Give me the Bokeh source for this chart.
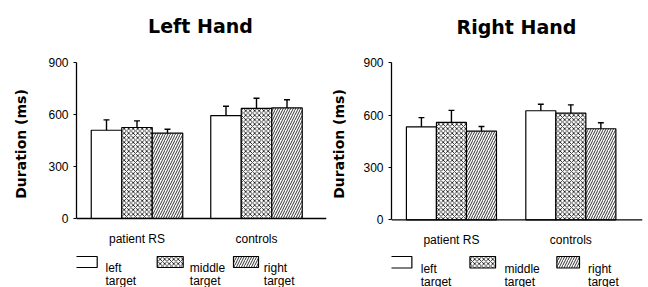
from bokeh.plotting import figure
from bokeh.layouts import row
from bokeh.models import Range1d, FixedTicker, Span, ColumnDataSource
from bokeh.core.properties import value
from bokeh.embed import file_html
from bokeh.resources import INLINE

# ---------------- data ----------------
groups = ["patient RS", "controls"]
targets = ["left", "middle", "right"]
target_word = "target"
y_ticks = [0, 300, 600, 900]

left_hand_left = [509, 594]
left_hand_middle = [525, 635]
left_hand_right = [492, 638]
left_hand_left_err = [60, 54]
left_hand_middle_err = [38, 59]
left_hand_right_err = [23, 47]

right_hand_left = [533, 625]
right_hand_middle = [558, 611]
right_hand_right = [508, 522]
right_hand_left_err = [53, 37]
right_hand_middle_err = [69, 48]
right_hand_right_err = [27, 34]

titles = ["Left Hand", "Right Hand"]
y_label = "Duration (ms)"

# ---------------- styles ----------------
HATCH = [None, "diagonal_cross", "right_diagonal_line"]
HATCH_SCALE = [1, 4.5, 5]
TXT = "Liberation Sans"
BOLD = "DejaVu Sans"
TOP_PAGE, BOT_PAGE = 0, 287


def make_panel(title, means, errs, geo):
    (fig_left, fig_w, frame_left, frame_right, c0, sx, y0, sy,
     label_standoff, title_cx, title_base, cat_base,
     boxes, box_top, box_bot, text_x, line1, line2) = geo

    def X(px):
        return (px - c0) / sx

    def Y(py):
        return (y0 - py) / sy

    p = figure(width=fig_w, height=BOT_PAGE - TOP_PAGE, output_backend="svg",
               toolbar_location=None,
               x_range=Range1d(X(frame_left), X(frame_right)),
               y_range=Range1d(Y(BOT_PAGE), Y(TOP_PAGE)),
               x_axis_location=None, y_axis_location="left",
               min_border_left=frame_left - fig_left,
               min_border_right=fig_left + fig_w - frame_right,
               min_border_top=0, min_border_bottom=0)
    p.outline_line_color = None
    p.grid.visible = False
    p.background_fill_color = "white"
    p.border_fill_color = "white"

    ax = p.yaxis[0]
    ax.ticker = FixedTicker(ticks=y_ticks)
    ax.bounds = (0, 900)
    ax.axis_line_width = 1.3
    ax.axis_line_color = "black"
    ax.major_tick_out = 3
    ax.major_tick_in = 0
    ax.minor_tick_line_color = None
    ax.major_tick_line_color = "black"
    ax.major_label_text_font = TXT
    ax.major_label_text_font_size = "12px"
    ax.major_label_text_color = "black"
    ax.major_label_standoff = 5
    ax.axis_label = y_label
    ax.axis_label_text_font = BOLD
    ax.axis_label_text_font_style = "bold"
    ax.axis_label_text_font_size = "14px"
    ax.axis_label_text_color = "black"
    ax.axis_label_standoff = label_standoff

    p.add_layout(Span(location=0, dimension="width", line_color="black", line_width=1.3))

    bw = 30.5 / sx
    offsets = [-bw, 0.0, bw]
    for j in range(3):
        xs = [i + offsets[j] for i in range(len(groups))]
        tops = [m + e for m, e in zip(means[j], errs[j])]
        src = ColumnDataSource(dict(x=xs, top=means[j], etop=tops))
        kw = {}
        if HATCH[j]:
            kw = dict(hatch_pattern=HATCH[j], hatch_scale=HATCH_SCALE[j],
                      hatch_weight=0.8, hatch_color="black")
        p.vbar(x="x", top="top", bottom=0, width=bw, source=src,
               fill_color="white", line_color="black", line_width=1.2, **kw)
        p.segment(x0="x", y0="top", x1="x", y1="etop", source=src,
                  line_color="black", line_width=1.4)
        cap = 3 / sx
        p.segment(x0=[x - cap for x in xs], y0=tops, x1=[x + cap for x in xs], y1=tops,
                  line_color="black", line_width=1.4)

    # title
    p.text(x=[X(title_cx)], y=[Y(title_base)], text=[title],
           text_font=value(BOLD), text_font_style="bold", text_font_size="19px",
           text_align="center", text_baseline="alphabetic", text_color="black")
    # category labels
    p.text(x=list(range(len(groups))), y=[Y(cat_base)] * len(groups), text=groups,
           text_font=value(TXT), text_font_size="12px", text_align="center",
           text_baseline="alphabetic", text_color="black")
    # legend
    for j in range(3):
        l, r = boxes[j]
        kw = {}
        if HATCH[j]:
            kw = dict(hatch_pattern=HATCH[j], hatch_scale=HATCH_SCALE[j],
                      hatch_weight=0.8, hatch_color="black")
        p.quad(left=[X(l)], right=[X(r)], top=[Y(box_top)], bottom=[Y(box_bot)],
               fill_color="white", line_color="black", line_width=1.2, **kw)
        p.text(x=[X(text_x[j])], y=[Y(line1)], text=[targets[j]],
               text_font=value(TXT), text_font_size="12px", text_align="left",
               text_baseline="alphabetic", text_color="black")
        p.text(x=[X(text_x[j])], y=[Y(line2)], text=[target_word],
               text_font=value(TXT), text_font_size="12px", text_align="left",
               text_baseline="alphabetic", text_color="black")
    return p


geo_left = (0, 328, 76, 326, 136.5, 119.5, 218.0, 156.0 / 900, 16,
            200, 25, 238.5,
            [(73.3, 96.7), (156.7, 182.7), (233, 258)], 256, 267,
            [105, 189.3, 263.3], 267.5, 280.5)
geo_right = (328, 320, 387, 642, 447.9, 121.3, 219.3, 157.0 / 900, 13,
             514, 26, 239.5,
             [(385, 407.7), (466.7, 492.7), (555, 578)], 256, 267.5,
             [416.7, 501.7, 586.7], 268, 281)

p1 = make_panel(titles[0],
                [left_hand_left, left_hand_middle, left_hand_right],
                [left_hand_left_err, left_hand_middle_err, left_hand_right_err], geo_left)
p2 = make_panel(titles[1],
                [right_hand_left, right_hand_middle, right_hand_right],
                [right_hand_left_err, right_hand_middle_err, right_hand_right_err], geo_right)

layout = row(p1, p2, spacing=0)
open("out.html", "w").write(file_html(layout, INLINE))
